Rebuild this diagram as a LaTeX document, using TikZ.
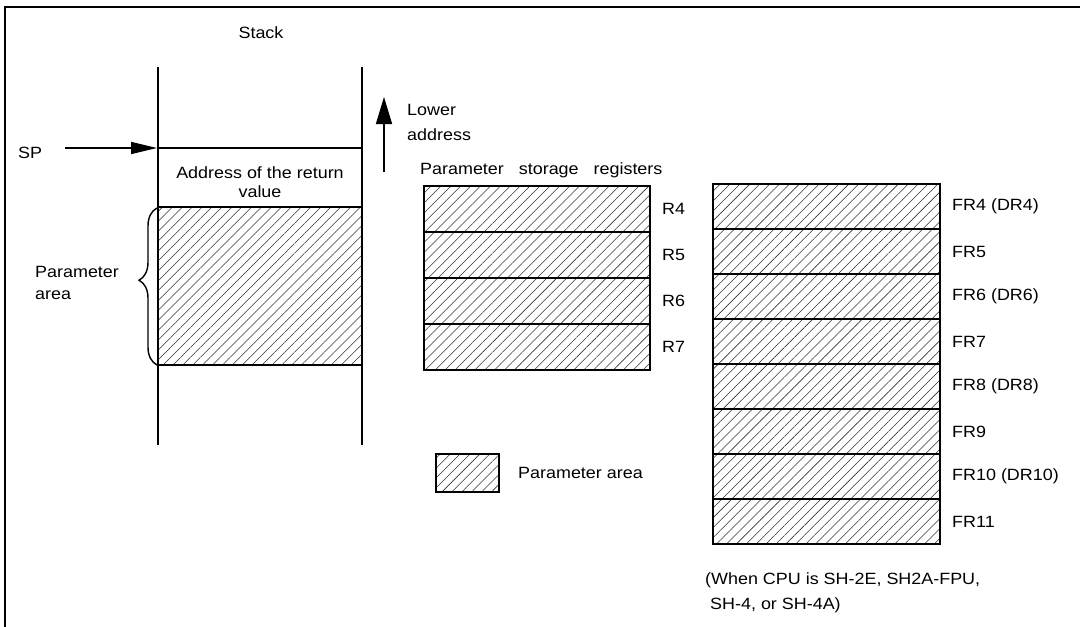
\documentclass[tikz,border=0pt]{standalone}
\usepackage{fontspec}
\setmainfont{Liberation Sans}[FakeStretch=1.1]
\usetikzlibrary{positioning,patterns.meta,decorations.pathreplacing,arrows.meta}

\tikzset{
  txt/.style={inner sep=0pt, font=\fontsize{16.3}{22}\selectfont},
  hatchbox/.style={draw, line width=1.6pt, outer sep=0pt, inner sep=0pt,
    pattern={Lines[angle=45,distance=7pt,line width=0.55pt]}, pattern color=black!80},
  regbox/.style={hatchbox, minimum width=226pt, minimum height=\RH},
  fregbox/.style={hatchbox, minimum width=227pt, minimum height=\FH},
  wall/.style={line width=1.5pt},
  ptr/.style={line width=1.5pt, -{Triangle[length=26pt,width=12pt]}},
  upptr/.style={line width=1.5pt, -{Triangle[length=27pt,width=16pt]}},
}

\begin{document}
\begin{tikzpicture}[x=1pt, y=-1pt]

\newcommand\RH{46pt}
\newcommand\FH{45pt}

\useasboundingbox (0,0) rectangle (1080,627); %% page size
\draw[line width=2.5pt] (1080,7) -- (5,7) -- (5,627); %% frame

%% stack
\node[txt] (stack) at (261,33) {Stack};
\draw[wall] (158,67) -- (158,445);
\draw[wall] (362,67) -- (362,445);
\draw[wall] (158,148) -- (362,148);
\node[txt, align=center, font=\fontsize{16.3}{19}\selectfont] (retaddr) at (260,182)
  {Address of the return\\value};
\node[hatchbox, minimum width=204pt, minimum height=158pt] (stackpar) at (260,286) {};

\node[txt] (sp) at (30,153) {SP};
\coordinate (spfrom) at (65,148);
\coordinate (sptip) at (157,148);
\draw[ptr] (spfrom) -- (sptip);

\coordinate (bracelo) at (157,365);
\coordinate (bracehi) at (157,208);
\draw[line width=1.4pt, decorate, decoration={brace, amplitude=18pt, aspect=0.54}]
  (bracelo) -- (bracehi);
\node[txt, align=left, anchor=west] (stackparlbl) at (35,283) {Parameter\\area};

%% address direction
\coordinate (lowfrom) at (384,172);
\coordinate (lowtip) at (384,97);
\draw[upptr] (lowfrom) -- (lowtip);
\node[txt, align=left, anchor=west, font=\fontsize{16.3}{25}\selectfont] (lower) at (407,122)
  {Lower\\address};

%% general registers
\node[txt, anchor=west] (regtitle) at (420,170)
  {Parameter\hspace{10pt} storage\hspace{10pt} registers};
\node[regbox] (r4) at (537,209) {};
\node[regbox, below=0pt of r4] (r5) {};
\node[regbox, below=0pt of r5] (r6) {};
\node[regbox, below=0pt of r6] (r7) {};
\node[txt, right=12pt of r4] (r4lbl) {R4};
\node[txt, right=12pt of r5] (r5lbl) {R5};
\node[txt, right=12pt of r6] (r6lbl) {R6};
\node[txt, right=12pt of r7] (r7lbl) {R7};

%% legend
\node[hatchbox, minimum width=63pt, minimum height=38pt] (legbox) at (467.5,473) {};
\node[txt, right=19pt of legbox] (leglbl) {Parameter area};

%% floating point registers
\node[fregbox] (fr4) at (826.5,206.5) {};
\node[fregbox, below=0pt of fr4] (fr5) {};
\node[fregbox, below=0pt of fr5] (fr6) {};
\node[fregbox, below=0pt of fr6] (fr7) {};
\node[fregbox, below=0pt of fr7] (fr8) {};
\node[fregbox, below=0pt of fr8] (fr9) {};
\node[fregbox, below=0pt of fr9] (fr10) {};
\node[fregbox, below=0pt of fr10] (fr11) {};
\node[txt, right=12pt of fr4] (fr4lbl) {FR4 (DR4)};
\node[txt, right=12pt of fr5] (fr5lbl) {FR5};
\node[txt, right=12pt of fr6] (fr6lbl) {FR6 (DR6)};
\node[txt, right=12pt of fr7] (fr7lbl) {FR7};
\node[txt, right=12pt of fr8] (fr8lbl) {FR8 (DR8)};
\node[txt, right=12pt of fr9] (fr9lbl) {FR9};
\node[txt, right=12pt of fr10] (fr10lbl) {FR10 (DR10)};
\node[txt, right=12pt of fr11] (fr11lbl) {FR11};

\node[txt, align=left, anchor=west, font=\fontsize{16.3}{25}\selectfont] (cpunote) at (705,593)
  {(When CPU is SH-2E, SH2A-FPU,\\\hspace*{5pt}SH-4, or SH-4A)};

\end{tikzpicture}
\end{document}
